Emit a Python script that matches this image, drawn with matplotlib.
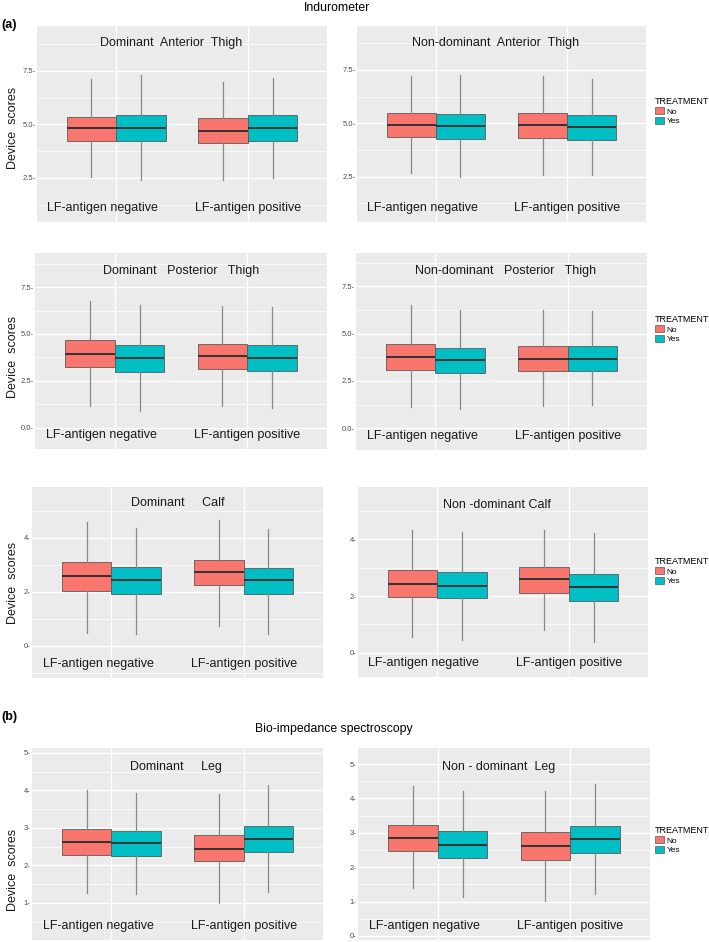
import matplotlib
matplotlib.use('Agg')
import matplotlib.pyplot as plt
from matplotlib.patches import Patch

plt.rcParams['font.family'] = ['Liberation Sans', 'DejaVu Sans']

W, H = 709, 942

# Valeurs : ordre (négatif-No, négatif-Yes, positif-No, positif-Yes)
# lignes : moustache basse, Q1, médiane, Q3, moustache haute
dom_ant_thigh = [[2.55, 2.39, 2.42, 2.50],
                 [4.22, 4.22, 4.11, 4.23],
                 [4.81, 4.83, 4.70, 4.84],
                 [5.36, 5.45, 5.28, 5.42],
                 [7.11, 7.30, 6.98, 7.19]]
nondom_ant_thigh = [[2.66, 2.50, 2.60, 2.56],
                    [4.34, 4.27, 4.31, 4.23],
                    [4.94, 4.88, 4.91, 4.81],
                    [5.50, 5.44, 5.50, 5.39],
                    [7.22, 7.27, 7.22, 7.09]]
dom_post_thigh = [[1.15, 0.92, 1.15, 1.08],
                  [3.27, 3.00, 3.13, 3.05],
                  [3.96, 3.71, 3.82, 3.73],
                  [4.66, 4.41, 4.46, 4.41],
                  [6.75, 6.52, 6.48, 6.41]]
nondom_post_thigh = [[1.10, 1.00, 1.17, 1.24],
                     [3.09, 2.93, 3.02, 3.04],
                     [3.76, 3.58, 3.67, 3.67],
                     [4.43, 4.24, 4.35, 4.35],
                     [6.50, 6.27, 6.24, 6.19]]
dom_calf = [[0.47, 0.43, 0.75, 0.44],
            [2.02, 1.91, 2.25, 1.91],
            [2.59, 2.44, 2.75, 2.43],
            [3.10, 2.92, 3.20, 2.90],
            [4.61, 4.37, 4.65, 4.33]]
nondom_calf = [[0.56, 0.47, 0.82, 0.39],
               [1.95, 1.92, 2.12, 1.84],
               [2.44, 2.35, 2.60, 2.33],
               [2.91, 2.86, 3.01, 2.78],
               [4.31, 4.27, 4.31, 4.21]]
dom_leg = [[1.27, 1.24, 1.00, 1.28],
           [2.29, 2.26, 2.11, 2.35],
           [2.63, 2.60, 2.44, 2.71],
           [2.96, 2.93, 2.82, 3.04],
           [4.00, 3.93, 3.91, 4.14]]
nondom_leg = [[1.38, 1.14, 1.01, 1.21],
              [2.47, 2.28, 2.20, 2.42],
              [2.86, 2.66, 2.61, 2.82],
              [3.23, 3.04, 3.02, 3.21],
              [4.37, 4.23, 4.21, 4.42]]

groups = ['LF-antigen negative', 'LF-antigen positive']
treatments = ['No', 'Yes']
colors = {'No': '#F8766D', 'Yes': '#00BFC4'}

ticks_thigh = [2.5, 5.0, 7.5]
ticks_post = [0.0, 2.5, 5.0, 7.5]
ticks_calf = [0, 2, 4]
ticks_leg_dom = [1, 2, 3, 4, 5]
ticks_leg_nondom = [0, 1, 2, 3, 4, 5]

# panneaux : données, titre, ticks, format, rectangle (px), ylim, position du titre (px)
panels = [
    (dom_ant_thigh, 'Dominant  Anterior  Thigh', ticks_thigh, '{:.1f}-',
     (37, 26, 327, 222), (0.44, 9.60), (171, 43)),
    (nondom_ant_thigh, 'Non-dominant  Anterior  Thigh', ticks_thigh, '{:.1f}-',
     (357, 26, 646, 222), (0.38, 9.56), (496, 43)),
    (dom_post_thigh, 'Dominant   Posterior   Thigh', ticks_post, '{:.1f}-',
     (35, 253, 327, 449), (-1.12, 9.31), (181, 271)),
    (nondom_post_thigh, 'Non-dominant   Posterior   Thigh', ticks_post, '{:.1f}-',
     (356, 253, 647, 450), (-1.15, 9.26), (506, 271)),
    (dom_calf, 'Dominant     Calf', ticks_calf, '{:d}-',
     (32, 487, 323, 678), (-1.19, 5.89), (178, 503)),
    (nondom_calf, 'Non -dominant Calf', ticks_calf, '{:d}-',
     (358, 487, 648, 677), (-0.85, 5.84), (497, 505)),
    (dom_leg, 'Dominant     Leg', ticks_leg_dom, '{:d}-',
     (32, 748, 323, 940), (0.01, 5.13), (176, 767)),
    (nondom_leg, 'Non - dominant  Leg', ticks_leg_nondom, '{:d}-',
     (358, 748, 650, 940), (-0.12, 5.47), (499, 767)),
]

legend_pos = [(655, 97), (655, 315), (655, 557), (655, 826)]
ylabel_y = [128, 357, 583, 870]


def fx(x):
    return x / W


def fy(y):
    return 1 - y / H


fig = plt.figure(figsize=(W / 100, H / 100), dpi=100)

for data, title, ticks, fmt, rect, ylim, tpos in panels:
    x0, y0, x1, y1 = rect
    ax = fig.add_axes([fx(x0), fy(y1), (x1 - x0) / W, (y1 - y0) / H])
    ax.set_facecolor('#EBEBEB')
    for s in ax.spines.values():
        s.set_visible(False)

    # grille majeure et mineure (style ggplot)
    step = ticks[1] - ticks[0]
    minor = [t + step / 2 for t in [ticks[0] - step] + ticks]
    for m in minor:
        ax.axhline(m, color='white', lw=0.5, zorder=0)
    for t in ticks:
        ax.axhline(t, color='white', lw=1.0, zorder=0)
    for g in [1, 2]:
        ax.axvline(g, color='white', lw=1.0, zorder=0)

    lo, q1, med, q3, hi = data
    stats, pos, cols = [], [], []
    for i in range(4):
        g = 1 + i // 2
        tr = treatments[i % 2]
        stats.append({'whislo': lo[i], 'q1': q1[i], 'med': med[i],
                      'q3': q3[i], 'whishi': hi[i], 'fliers': []})
        pos.append(g - 0.1875 if tr == 'No' else g + 0.1875)
        cols.append(colors[tr])

    bp = ax.bxp(stats, positions=pos, widths=0.375, patch_artist=True,
                showcaps=False, showfliers=False, manage_ticks=False,
                boxprops=dict(edgecolor='#5a5a5a', linewidth=0.6),
                whiskerprops=dict(color='#888888', linewidth=0.9),
                medianprops=dict(color='#333333', linewidth=1.4))
    for b, c in zip(bp['boxes'], cols):
        b.set_facecolor(c)
        b.set_zorder(2)

    ax.set_xlim(0.4, 2.6)
    ax.set_ylim(*ylim)
    ax.set_xticks([])
    ax.set_yticks(ticks)
    ax.set_yticklabels([fmt.format(t) for t in ticks])
    ax.tick_params(axis='y', length=0, pad=1, labelsize=5.5, labelcolor='#4D4D4D')

    ax.text(0.9, 0.072, groups[0], transform=ax.get_xaxis_transform(),
            ha='center', va='center', fontsize=9, color='#1a1a1a')
    ax.text(2.0, 0.072, groups[1], transform=ax.get_xaxis_transform(),
            ha='center', va='center', fontsize=9, color='#1a1a1a')

    fig.text(fx(tpos[0]), fy(tpos[1]), title, ha='center', va='center',
             fontsize=9, color='#1a1a1a')

for ly in ylabel_y:
    fig.text(fx(13), fy(ly), 'Device  scores', rotation=90, ha='center',
             va='center', fontsize=9, color='#1a1a1a')

handles = [Patch(facecolor=colors[t], edgecolor='#5a5a5a', linewidth=0.5, label=t)
           for t in treatments]
for lx, ly in legend_pos:
    leg = fig.legend(handles=handles, title='TREATMENT', loc='upper left',
                     bbox_to_anchor=(fx(lx), fy(ly)), frameon=False,
                     fontsize=6, title_fontsize=6.5, handlelength=1.1,
                     handleheight=0.9, handletextpad=0.3, labelspacing=0.15,
                     borderaxespad=0, borderpad=0)
    leg._legend_box.align = 'left'

fig.text(fx(337), fy(8), 'Indurometer', ha='center', va='center', fontsize=8.8)
fig.text(fx(334), fy(729), 'Bio-impedance spectroscopy', ha='center', va='center',
         fontsize=8.8)
fig.text(fx(1), fy(25), '(a)', ha='left', va='center', fontsize=9, fontweight='bold')
fig.text(fx(1), fy(717), '(b)', ha='left', va='center', fontsize=9, fontweight='bold')

fig.savefig('out.png', dpi=100)
